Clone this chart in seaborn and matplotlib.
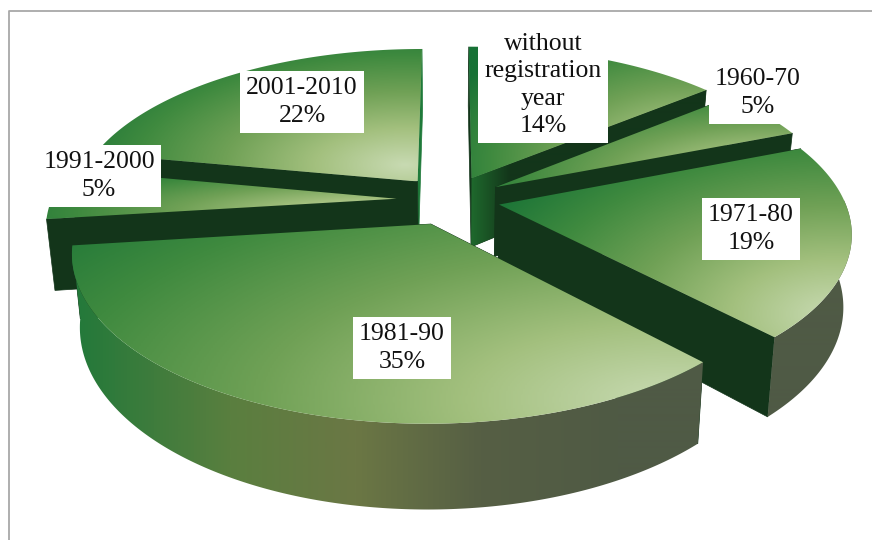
import numpy as np
import matplotlib
matplotlib.use("Agg")
import matplotlib.pyplot as plt
import matplotlib.transforms as mtransforms
from matplotlib.patches import Polygon
import seaborn as sns

categories = ["without\nregistration\nyear", "1960-70", "1971-80", "1981-90", "1991-2000", "2001-2010"]
shares = [14, 5, 19, 35, 5, 22]
explode = [0.15, 0.155, 0.145, 0.16, 0.155, 0.15]
draw_order = [5, 0, 1, 4, 2, 3]
label_centers = [(543, 85), (758, 93), (751, 229), (402, 348), (99, 176), (302, 102)]
falloff = [1.15, 1.15, 1.15, 1.3, 1.15, 1.1]
y_weight = [1, 1, 1, 0.85, 1, 1]

CX, CY, RX, RY, P, DEPTH = 450, 199.5, 345, 159, 0.16, 70

sns.set_theme(style="white")
top_cmap = sns.blend_palette(["#177236", "#3f8a3f", "#70a156", "#a3c07e", "#c8dab2"], as_cmap=True)
rim_cmap = sns.blend_palette(["#23793a", "#5a7f3f", "#6b7745", "#565f44", "#4f5a45", "#505a45"], as_cmap=True)
wall_cmap = sns.blend_palette(["#1f6a2d", "#13351a"], as_cmap=True)
CUT = "#13351a"
SLIVER = "#1f7a3a"


class Persp(mtransforms.Transform):
    input_dims = output_dims = 2
    is_separable = False
    has_inverse = False

    def __init__(self, z=0.0):
        super().__init__()
        self.z = z

    def transform_non_affine(self, pts):
        pts = np.asarray(pts, float)
        d = 1 + P * pts[:, 1]
        shrink = 1 - 0.0003 * self.z
        return np.column_stack([CX + RX * shrink * pts[:, 0] / d,
                                CY - RY * pts[:, 1] / d + self.z / d])


fig = plt.figure(figsize=(8.72, 5.40), dpi=100, facecolor="white")
ax = fig.add_axes([0, 0, 1, 1])
wedges, _ = ax.pie(shares, explode=explode, startangle=90, counterclock=False, radius=1)
ax.set_aspect("auto")
top_np, bot_np = Persp(0), Persp(DEPTH)

gx, gy = np.meshgrid(np.linspace(0, 1, 300), np.linspace(0, 1, 300))
xs = np.arange(0, 873)
rim_t = np.interp(xs, [75, 230, 355, 480, 620, 872], np.linspace(0, 1, 6))[None, :]
wall_t = np.clip((xs - 470) / 40.0, 0, 1)[None, :]
z = 1
for i in draw_order:
    w = wedges[i]
    w.set_visible(False)
    c = np.array(w.center)
    ang = np.radians(np.linspace(w.theta1, w.theta2, 200))
    arc = c + w.r * np.column_stack([np.cos(ang), np.sin(ang)])
    # cut faces
    for k, edge in enumerate((arc[0], arc[-1])):
        a = top_np.transform_non_affine(np.array([c, edge]))
        b = bot_np.transform_non_affine(np.array([edge, c]))
        col = SLIVER if (i == 5 and k == 0) else CUT
        face = Polygon(np.vstack([a, b]), closed=True, fc=col, ec=col, lw=0.5, zorder=z)
        ax.add_patch(face)
        if i == 0 and k == 0:
            im = ax.imshow(wall_t, cmap=wall_cmap, vmin=0, vmax=1, aspect="auto",
                           extent=(0, 872, 540, 0), zorder=z + 0.5, interpolation="bilinear")
            im.set_clip_path(face)
    z += 1
    # outer rim, front part only (the narrow 1991-2000 wedge shows only its dark wall)
    front = np.sin(ang) < 0.03
    if front.any() and i != 4:
        fa = arc[front]
        poly = np.vstack([top_np.transform_non_affine(fa), bot_np.transform_non_affine(fa[::-1])])
        patch = Polygon(poly, closed=True, fc="none", ec="none", zorder=z)
        ax.add_patch(patch)
        im = ax.imshow(rim_t, cmap=rim_cmap, vmin=0, vmax=1, aspect="auto",
                       extent=(0, 872, 540, 0), zorder=z, interpolation="bilinear")
        im.set_clip_path(patch)
        z += 1
    # top face
    outline = np.vstack([c, arc])
    scr = top_np.transform_non_affine(outline)
    patch = Polygon(scr, closed=True, fc="none", ec="none", zorder=z)
    ax.add_patch(patch)
    x0, y0 = scr.min(axis=0)
    x1, y1 = scr.max(axis=0)
    t = np.clip(1 - np.hypot(gx - 0.95, y_weight[i] * (gy - 0.88)) / falloff[i], 0, 1)
    im = ax.imshow(t, cmap=top_cmap, vmin=0, vmax=1, aspect="auto",
                   extent=(x0, x1, y1, y0), zorder=z, interpolation="bilinear")
    im.set_clip_path(patch)
    z += 1

for name, share, (lx, ly) in zip(categories, shares, label_centers):
    ax.text(lx, ly, f"{name}\n{share}%", ha="center", va="center", multialignment="center",
            family=["Liberation Serif"], fontsize=18.5, color="#111111", linespacing=1.3,
            bbox=dict(fc="white", ec="none", boxstyle="square,pad=0.25"), zorder=100)

ax.plot([9, 9, 872], [540, 11, 11], color="#a8a8a8", lw=1.3, zorder=101)
ax.set_xlim(0, 872)
ax.set_ylim(540, 0)
ax.axis("off")
fig.savefig("out.png", dpi=100, facecolor="white")
